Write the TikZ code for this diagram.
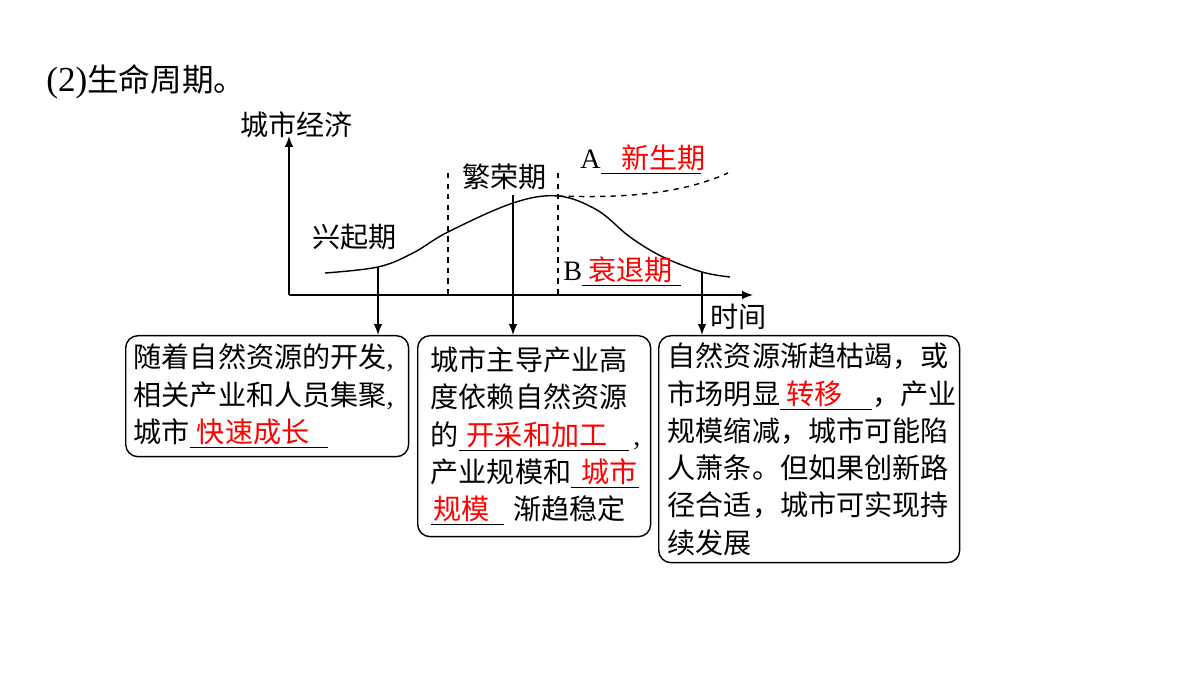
\documentclass[tikz,border=0pt]{standalone}
\usepackage{fontspec}
\setmainfont{Noto Sans CJK SC}
\newfontfamily\lat{Liberation Serif}
\usetikzlibrary{arrows.meta,positioning}
\newcommand\redblank[3]{\underline{\makebox[#1][l]{\hspace{#2}\textcolor{red}{#3}}}}
\tikzset{box/.style={draw,line width=0.8pt,rounded corners=7pt,anchor=north west,align=left,
 font=\fontsize{16pt}{21.2pt}\selectfont,inner ysep=2pt},
 lbl/.style={inner sep=0pt,font=\fontsize{16pt}{19pt}\selectfont},
 arr/.style={-{Latex[length=2.2mm,width=1.7mm]},line width=0.8pt}}

\begin{document}
\begin{tikzpicture}[x=0.02cm,y=-0.02cm]
\useasboundingbox (0,0) rectangle (1200,675);
\node[anchor=west,inner sep=0pt,font=\fontsize{18pt}{20pt}\selectfont] (title) at (46,82) {{\lat\fontsize{20pt}{20pt}\selectfont (2)}生命周期。};
% axes
\coordinate (o) at (289,295);
\coordinate (ytop) at (289,136);
\coordinate (xend) at (753,295);
\draw[arr] (o) -- (ytop);
\draw[arr] (o) -- (xend);
\node[lbl,anchor=west] (ylab) at (240,125) {城市经济};
\node[lbl,anchor=west] (xlab) at (710,317) {时间};
% stage borders
\draw[dashed,line width=0.7pt] (448,173) -- (448,295);
\draw[dashed,line width=0.7pt] (558,173) -- (558,295);
% curve
\draw[line width=0.8pt] plot[smooth,tension=0.6] coordinates {(325,273) (378,267) (413,253) (448,232) (513,203) (558,196) (597,210) (630,237) (663,257) (702,272) (730,277)};
\draw[dashed,line width=0.8pt] (558,196) .. controls (640,199) and (690,190) .. (728,173);
\node[lbl,anchor=west] (rise) at (312,237) {兴起期};
\node[lbl,anchor=west] (boom) at (462,177) {繁荣期};
\node[lbl,anchor=base west] (newst) at (580,169) {{\lat A}\redblank{2cm}{0.42cm}{新生期}};
\node[lbl,anchor=base west] (decl) at (563,281) {{\lat B}\redblank{1.98cm}{0.12cm}{衰退期}};
% boxes
\node[box,inner xsep=0.16cm,text width=5.34cm,minimum height=2.42cm] (b1) at (125,335)
 {随着自然资源的开发{\lat,}\\相关产业和人员集聚{\lat,}\\城市\redblank{2.76cm}{0.14cm}{快速成长}};
\node[box,inner xsep=0.26cm,text width=4.14cm,minimum height=4.02cm] (b2) at (417,335)
 {城市主导产业高\\度依赖自然资源\\的\redblank{3.4cm}{0.16cm}{开采和加工}{\lat\,,}\\产业规模和\redblank{1.36cm}{0.2cm}{城市}\\\redblank{1.46cm}{0.06cm}{规模}~渐趋稳定};
\node[box,inner xsep=0.18cm,text width=5.66cm,minimum height=4.54cm] (b3) at (658,335)
 {自然资源渐趋枯竭，或\\市场明显\redblank{1.84cm}{0.12cm}{转移}，产业\\规模缩减，城市可能陷\\人萧条。但如果创新路\\径合适，城市可实现持\\续发展};
% links
\coordinate (c1) at (378,267);
\coordinate (c2) at (513,195);
\coordinate (c3) at (702,272);
\draw[arr] (c1) -- (c1 |- b1.north);
\draw[arr] (c2) -- (c2 |- b2.north);
\draw[arr] (c3) -- (c3 |- b3.north);
\end{tikzpicture}
\end{document}
